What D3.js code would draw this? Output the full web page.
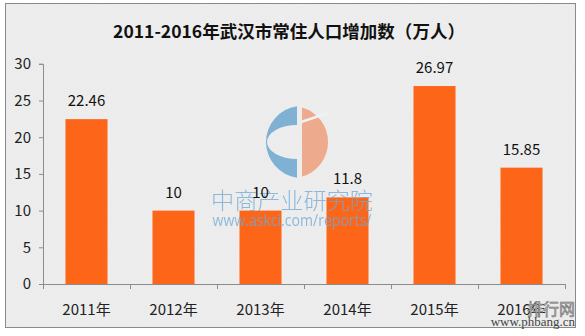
<!DOCTYPE html>
<html>
<head>
<meta charset="utf-8">
<script src="https://cdn.jsdelivr.net/npm/d3@7"></script>
<style>
  html, body { margin: 0; padding: 0; background: #ffffff; }
  svg { display: block; }
  text { font-family: "Noto Sans CJK SC", "Microsoft YaHei", sans-serif; }
</style>
</head>
<body>
<svg id="chart" width="585" height="336"></svg>
<script>
// Population increase of Wuhan's resident population, 10k persons
const title = "2011-2016年武汉市常住人口增加数（万人）";
const categories = ["2011年", "2012年", "2013年", "2014年", "2015年", "2016年"];
const values = [22.46, 10, 10, 11.8, 26.97, 15.85];
const valueLabels = ["22.46", "10", "10", "11.8", "26.97", "15.85"];
const yTicks = [0, 5, 10, 15, 20, 25, 30];

const svg = d3.select("#chart");

// grainy paper texture for the chart panel
const defs = svg.append("defs");
const grain = defs.append("filter").attr("id", "grain")
  .attr("x", 0).attr("y", 0).attr("width", "100%").attr("height", "100%");
grain.append("feTurbulence").attr("type", "fractalNoise")
  .attr("baseFrequency", 0.9).attr("numOctaves", 2).attr("seed", 3).attr("result", "n");
grain.append("feColorMatrix").attr("in", "n").attr("type", "matrix")
  .attr("values", "0 0 0 0 0.5  0 0 0 0 0.5  0 0 0 0 0.5  0 0 0 0.10 0");
grain.append("feComposite").attr("in2", "SourceGraphic").attr("operator", "in");

svg.append("rect").attr("x", 5.5).attr("y", 3.5).attr("width", 570).attr("height", 324)
  .attr("fill", "#efefef").attr("stroke", "#8a8a8a").attr("stroke-width", 1);
svg.append("rect").attr("x", 6).attr("y", 4).attr("width", 569).attr("height", 323)
  .attr("fill", "#ffffff").attr("filter", "url(#grain)");

// title, sized to its span
const t = svg.append("text").attr("x", 289).attr("y", 38)
  .attr("text-anchor", "middle").attr("font-weight", "bold")
  .attr("font-size", 19).attr("fill", "#111").text(title);
const tw = t.node().getComputedTextLength();
t.attr("font-size", 19 * 352 / tw);

// scales
const x = d3.scaleBand().domain(categories).range([43, 565])
  .paddingInner(0.517).paddingOuter(0.2585);
const y = d3.scaleLinear().domain([0, 30]).range([284, 63.8]);

const axisColor = "#8c8c8c";

// y axis
const yAxis = svg.append("g").attr("transform", "translate(43,0)")
  .call(d3.axisLeft(y).tickValues(yTicks).tickSize(4).tickPadding(8));
yAxis.select(".domain").attr("stroke", axisColor);
yAxis.selectAll(".tick line").attr("stroke", axisColor);
yAxis.selectAll(".tick text").attr("font-size", 15).attr("fill", "#222")
  .style("font-family", "'Noto Sans CJK SC', sans-serif");

// bars
svg.append("g").selectAll("rect").data(values).join("rect")
  .attr("x", (d, i) => x(categories[i]))
  .attr("width", x.bandwidth())
  .attr("y", d => y(d))
  .attr("height", d => y(0) - y(d))
  .attr("fill", "#fd6519");

// x axis: baseline with ticks at category boundaries
const xa = svg.append("g");
xa.append("line").attr("x1", 43).attr("x2", 565).attr("y1", 284.5).attr("y2", 284.5)
  .attr("stroke", axisColor);
d3.range(categories.length + 1).forEach(i => {
  const px = Math.round(x.range()[0] + i * x.step()) + 0.5;
  xa.append("line").attr("x1", px).attr("x2", px).attr("y1", 284).attr("y2", 289)
    .attr("stroke", axisColor);
});
xa.selectAll("text.cat").data(categories).join("text").attr("class", "cat")
  .attr("x", d => x(d) + x.bandwidth() / 2).attr("y", 315)
  .attr("text-anchor", "middle").attr("font-size", 15).attr("fill", "#222")
  .text(d => d);

// watermark logo and text
const wm = svg.append("g").attr("opacity", 0.9);
const cx = 292, cy = 142, r = 36;
const hb = Math.sqrt(r * r - 25), hs = Math.sqrt(r * r - 100);
wm.append("path")
  .attr("d", `M${cx + 5},${cy - hb} A${r},${r} 0 0 0 ${cx + 5},${cy + hb}
              L${cx + 5},${cy + 17} A30,17 0 0 1 ${cx + 5},${cy - 17} Z`)
  .attr("fill", "#74abd3");
wm.append("path")
  .attr("d", `M${cx + 10},${cy - hs} A${r},${r} 0 0 1 ${cx + 10},${cy + hs} Z`)
  .attr("fill", "#eea383");
wm.append("line").attr("x1", cx + 9).attr("y1", cy - 20).attr("x2", cx + 36).attr("y2", cy - 29)
  .attr("stroke", "#f2f2f2").attr("stroke-width", 2.5);
wm.append("text").attr("x", 292).attr("y", 209).attr("text-anchor", "middle")
  .attr("font-size", 23).attr("font-weight", 300).attr("fill", "#6fa9d6").attr("fill-opacity", 0.85)
  .attr("textLength", 162).attr("lengthAdjust", "spacingAndGlyphs")
  .text("中商产业研究院");
wm.append("text").attr("x", 292).attr("y", 226).attr("text-anchor", "middle")
  .attr("font-size", 15.5).attr("fill", "#6fa9d6").attr("fill-opacity", 0.85)
  .attr("textLength", 159).attr("lengthAdjust", "spacingAndGlyphs")
  .style("font-family", "'Open Sans', sans-serif")
  .text("www.askci.com/reports/");

// value labels
svg.append("g").selectAll("text").data(values).join("text")
  .attr("x", (d, i) => x(categories[i]) + x.bandwidth() / 2)
  .attr("y", d => y(d) - 13)
  .attr("text-anchor", "middle").attr("font-size", 15).attr("fill", "#111")
  .text((d, i) => valueLabels[i]);

// corner site mark
svg.append("text").attr("x", 575).attr("y", 315).attr("text-anchor", "end")
  .attr("font-size", 16).attr("fill", "#c8c8c8").attr("stroke", "#707070").attr("stroke-width", 0.6)
  .text("排行网");
svg.append("text").attr("x", 575).attr("y", 326).attr("text-anchor", "end")
  .attr("font-size", 13).attr("fill", "#444")
  .style("font-family", "'Liberation Serif', serif")
  .text("www.phbang.cn");
</script>
</body>
</html>
